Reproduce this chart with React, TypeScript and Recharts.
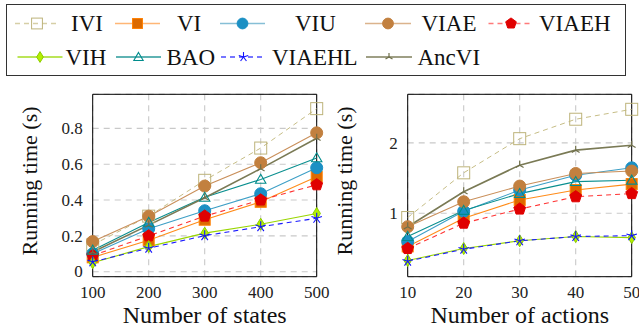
import React from 'react';
import { LineChart, Line, XAxis, YAxis, CartesianGrid, ReferenceArea } from 'recharts';

const FONT = '"Liberation Serif", "Times New Roman", serif';

// ---------- data ----------
const states = [100, 200, 300, 400, 500];
const actions = [10, 20, 30, 40, 50];
const stateYTicks = [0, 0.2, 0.4, 0.6, 0.8];
const actionYTicks = [1, 2];

const iviStates = [0.15, 0.31, 0.51, 0.69, 0.91];
const viStates = [0.08, 0.175, 0.29, 0.39, 0.53];
const viuStates = [0.1, 0.24, 0.34, 0.435, 0.58];
const viaeStates = [0.168, 0.31, 0.478, 0.608, 0.775];
const viaehStates = [0.09, 0.2, 0.31, 0.4, 0.485];
const vihStates = [0.05, 0.14, 0.215, 0.265, 0.325];
const baoStates = [0.12, 0.275, 0.415, 0.515, 0.635];
const viaehlStates = [0.055, 0.131, 0.201, 0.251, 0.298];
const ancviStates = [0.11, 0.26, 0.413, 0.575, 0.745];

const iviActions = [0.94, 1.575, 2.06, 2.336, 2.477];
const viActions = [0.53, 0.93, 1.19, 1.33, 1.415];
const viuActions = [0.6, 1.03, 1.33, 1.54, 1.646];
const viaeActions = [0.81, 1.164, 1.387, 1.566, 1.6];
const viaehActions = [0.5, 0.86, 1.06, 1.235, 1.28];
const vihActions = [0.33, 0.5, 0.61, 0.67, 0.655];
const baoActions = [0.67, 1.04, 1.28, 1.45, 1.47];
const viaehlActions = [0.32, 0.49, 0.61, 0.67, 0.683];
const ancviActions = [0.81, 1.306, 1.684, 1.897, 1.967];

type Shape = 'square' | 'circle' | 'pentagon' | 'diamond' | 'triangle' | 'star' | 'tri';

interface SeriesDef {
  key: string;
  line: string;
  legendLine: string;
  fill: string;
  stroke: string;
  dash?: string;
  shape: Shape;
  size: number;
  width: number;
}

const series: SeriesDef[] = [
  { key: 'IVI', line: '#c6bd86', legendLine: '#d6cfa6', fill: 'none', stroke: '#bdb37a', dash: '5 4', shape: 'square', size: 6, width: 1 },
  { key: 'VI', line: '#ff8c1a', legendLine: '#ffb676', fill: '#dc6a00', stroke: '#ff8000', shape: 'square', size: 5.5, width: 1.1 },
  { key: 'VIU', line: '#3d9fc6', legendLine: '#86bfd6', fill: '#1b90c4', stroke: '#1b90c4', shape: 'circle', size: 6, width: 1.1 },
  { key: 'VIAE', line: '#c98f5a', legendLine: '#dbb38c', fill: '#c2803f', stroke: '#c2803f', shape: 'circle', size: 6, width: 1.1 },
  { key: 'VIAEH', line: '#ff3333', legendLine: '#ff7a7a', fill: '#e00000', stroke: '#e00000', dash: '5 4', shape: 'pentagon', size: 6.2, width: 1.1 },
  { key: 'VIH', line: '#99d600', legendLine: '#a6dc20', fill: '#b4f000', stroke: '#8ccc00', shape: 'diamond', size: 6, width: 1.1 },
  { key: 'BAO', line: '#0a8f8f', legendLine: '#2a9a9a', fill: 'none', stroke: '#008c8c', shape: 'triangle', size: 6, width: 1.1 },
  { key: 'VIAEHL', line: '#1a1aff', legendLine: '#4a4aff', fill: 'none', stroke: '#1010ff', dash: '5 4', shape: 'star', size: 5.5, width: 1.1 },
  { key: 'AncVI', line: '#7a7a55', legendLine: '#7f7f5c', fill: 'none', stroke: '#6f6f4a', shape: 'tri', size: 4.5, width: 1.6 },
];

const statesData = states.map((x, i) => ({
  x,
  IVI: iviStates[i], VI: viStates[i], VIU: viuStates[i], VIAE: viaeStates[i], VIAEH: viaehStates[i],
  VIH: vihStates[i], BAO: baoStates[i], VIAEHL: viaehlStates[i], AncVI: ancviStates[i],
}));

const actionsData = actions.map((x, i) => ({
  x,
  IVI: iviActions[i], VI: viActions[i], VIU: viuActions[i], VIAE: viaeActions[i], VIAEH: viaehActions[i],
  VIH: vihActions[i], BAO: baoActions[i], VIAEHL: viaehlActions[i], AncVI: ancviActions[i],
}));

// ---------- markers ----------
function polyPoints(cx: number, cy: number, r: number, n: number, start: number) {
  const pts: string[] = [];
  for (let k = 0; k < n; k++) {
    const a = ((start + (360 / n) * k) * Math.PI) / 180;
    pts.push(`${cx + r * Math.cos(a)},${cy + r * Math.sin(a)}`);
  }
  return pts.join(' ');
}

function Marker({ s, cx, cy, scale = 1 }: { s: SeriesDef; cx: number; cy: number; scale?: number }) {
  const r = s.size * scale;
  const sw = 1;
  switch (s.shape) {
    case 'square':
      return <rect x={cx - r} y={cy - r} width={2 * r} height={2 * r} fill={s.fill} stroke={s.stroke} strokeWidth={sw} />;
    case 'circle':
      return <circle cx={cx} cy={cy} r={r} fill={s.fill} stroke={s.stroke} strokeWidth={sw} />;
    case 'pentagon':
      return <polygon points={polyPoints(cx, cy, r, 5, -90)} fill={s.fill} stroke={s.stroke} strokeWidth={sw} />;
    case 'diamond':
      return (
        <polygon
          points={`${cx},${cy - r} ${cx + r * 0.62},${cy} ${cx},${cy + r} ${cx - r * 0.62},${cy}`}
          fill={s.fill}
          stroke={s.stroke}
          strokeWidth={sw}
        />
      );
    case 'triangle':
      return <polygon points={polyPoints(cx, cy + r * 0.15, r, 3, -90)} fill="none" stroke={s.stroke} strokeWidth={1.1} />;
    case 'star': {
      const lines = [0, 1, 2, 3, 4].map((k) => {
        const a = ((-90 + 72 * k) * Math.PI) / 180;
        return <line key={k} x1={cx} y1={cy} x2={cx + r * Math.cos(a)} y2={cy + r * Math.sin(a)} stroke={s.stroke} strokeWidth={1.1} />;
      });
      return <g>{lines}</g>;
    }
    case 'tri': {
      const lines = [0, 1, 2].map((k) => {
        const a = ((-90 + 120 * k) * Math.PI) / 180;
        return <line key={k} x1={cx} y1={cy} x2={cx + r * Math.cos(a)} y2={cy + r * Math.sin(a)} stroke={s.stroke} strokeWidth={1.2} />;
      });
      return <g>{lines}</g>;
    }
  }
  return null;
}

const makeDot = (s: SeriesDef) => (props: any) => {
  const { cx, cy, index } = props;
  if (cx == null || cy == null) return <g key={`${s.key}-${index}`} />;
  return (
    <g key={`${s.key}-${index}`}>
      <Marker s={s} cx={cx} cy={cy} />
    </g>
  );
};

// ---------- labels & ticks ----------
const XLabel = (props: any) => {
  const { viewBox, text } = props;
  if (!viewBox) return null;
  const { x, y, width } = viewBox;
  return (
    <text x={x + width / 2} y={y + 46.5} textAnchor="middle" fontSize={24} fontFamily={FONT} fill="#111">
      {text}
    </text>
  );
};

const YLabel = (props: any) => {
  const { viewBox, text } = props;
  if (!viewBox) return null;
  const { x, y, width, height } = viewBox;
  const cx = x + width - 63;
  const cy = y + height / 2 - 4.5;
  return (
    <text
      x={cx}
      y={cy}
      transform={`rotate(-90 ${cx} ${cy})`}
      textAnchor="middle"
      dominantBaseline="central"
      fontSize={22}
      fontFamily={FONT}
      fill="#111"
    >
      {text}
    </text>
  );
};

const XTick = (props: any) => {
  const { x, y, payload } = props;
  return (
    <text x={x} y={y} dy="0.72em" textAnchor="middle" fontSize={17} fontFamily={FONT} fill="#222">
      {String(payload.value)}
    </text>
  );
};

const YTick = (props: any) => {
  const { x, y, payload } = props;
  return (
    <text x={x} y={y} dy="0.34em" textAnchor="end" fontSize={17} fontFamily={FONT} fill="#222">
      {String(payload.value)}
    </text>
  );
};

interface PanelProps {
  data: any[];
  xTicks: number[];
  yTicks: number[];
  yDomain: [number, number];
  xLabel: string;
  width: number;
  yAxisWidth: number;
  rightMargin: number;
}

function Panel({ data, xTicks, yTicks, yDomain, xLabel, width, yAxisWidth, rightMargin }: PanelProps) {
  const xDomain: [number, number] = [xTicks[0], xTicks[xTicks.length - 1]];
  return (
    <LineChart width={width} height={335} data={data} margin={{ top: 94.3, right: rightMargin, bottom: 0, left: 0 }}>
      <CartesianGrid stroke="#c9c9c9" strokeDasharray="6 5" strokeWidth={1.1} />
      <XAxis
        dataKey="x"
        type="number"
        domain={xDomain}
        ticks={xTicks}
        interval={0}
        height={58.3}
        axisLine={false}
        tickLine={false}
        tickSize={0}
        tickMargin={9}
        tick={<XTick />}
        label={<XLabel text={xLabel} />}
      />
      <YAxis
        type="number"
        domain={yDomain}
        ticks={yTicks}
        interval={0}
        allowDataOverflow
        width={yAxisWidth}
        axisLine={false}
        tickLine={false}
        tickSize={0}
        tickMargin={10}
        tick={<YTick />}
        label={<YLabel text="Running time (s)" />}
      />
      <ReferenceArea x1={xDomain[0]} x2={xDomain[1]} y1={yDomain[0]} y2={yDomain[1]} fill="none" stroke="#000" strokeWidth={1} ifOverflow="visible" />
      {series.map((s) => (
        <Line
          key={s.key}
          type="linear"
          dataKey={s.key}
          stroke={s.line}
          strokeWidth={s.width}
          strokeDasharray={s.dash}
          dot={makeDot(s)}
          activeDot={false}
          isAnimationActive={false}
          legendType="none"
        />
      ))}
    </LineChart>
  );
}

// ---------- legend ----------
interface LegendPos {
  key: string;
  row: number;
  symX: number;
  symW: number;
  textX: number;
}

const legendLayout: LegendPos[] = [
  { key: 'IVI', row: 0, symX: 15, symW: 44, textX: 71 },
  { key: 'VI', row: 0, symX: 115, symW: 45, textX: 177 },
  { key: 'VIU', row: 0, symX: 220, symW: 45, textX: 295 },
  { key: 'VIAE', row: 0, symX: 365, symW: 46, textX: 421.5 },
  { key: 'VIAEH', row: 0, symX: 488.5, symW: 45, textX: 539 },
  { key: 'VIH', row: 1, symX: 17.5, symW: 45, textX: 65.5 },
  { key: 'BAO', row: 1, symX: 116, symW: 45, textX: 166.5 },
  { key: 'VIAEHL', row: 1, symX: 221, symW: 45, textX: 272 },
  { key: 'AncVI', row: 1, symX: 366, symW: 46, textX: 417.5 },
];

const rowY = [23.5, 57];

function Legend() {
  return (
    <div
      style={{
        position: 'absolute',
        left: 6,
        top: 4,
        width: 620,
        height: 72,
        border: '1px solid #333',
        boxSizing: 'border-box',
        background: '#fff',
      }}
    >
      <svg width={620} height={72} style={{ position: 'absolute', left: -1, top: -1 }}>
        {legendLayout.map((p) => {
          const s = series.find((q) => q.key === p.key)!;
          const y = rowY[p.row] - 4;
          const sx = p.symX - 6;
          const tx = p.textX - 6;
          return (
            <g key={p.key}>
              <line x1={sx} y1={y} x2={sx + p.symW} y2={y} stroke={s.legendLine} strokeWidth={1.6} strokeDasharray={s.dash} />
              <Marker s={s} cx={sx + p.symW / 2} cy={y} scale={0.9} />
              <text x={tx} y={y} dominantBaseline="central" fontSize={23} fontFamily={FONT} fill="#111">
                {p.key}
              </text>
            </g>
          );
        })}
      </svg>
    </div>
  );
}

export default function App() {
  return (
    <div style={{ position: 'absolute', left: 0, top: 0, width: 639, height: 335, background: '#fff', overflow: 'hidden', fontFamily: FONT }}>
      <Legend />
      <div style={{ position: 'absolute', left: 0, top: 0 }}>
        <Panel
          data={statesData}
          xTicks={states}
          yTicks={stateYTicks}
          yDomain={[-0.028, 0.99]}
          xLabel="Number of states"
          width={330}
          yAxisWidth={92.7}
          rightMargin={13.3}
        />
      </div>
      <div style={{ position: 'absolute', left: 330, top: 0 }}>
        <Panel
          data={actionsData}
          xTicks={actions}
          yTicks={actionYTicks}
          yDomain={[0.1, 2.69]}
          xLabel="Number of actions"
          width={309}
          yAxisWidth={77.7}
          rightMargin={7.3}
        />
      </div>
    </div>
  );
}
